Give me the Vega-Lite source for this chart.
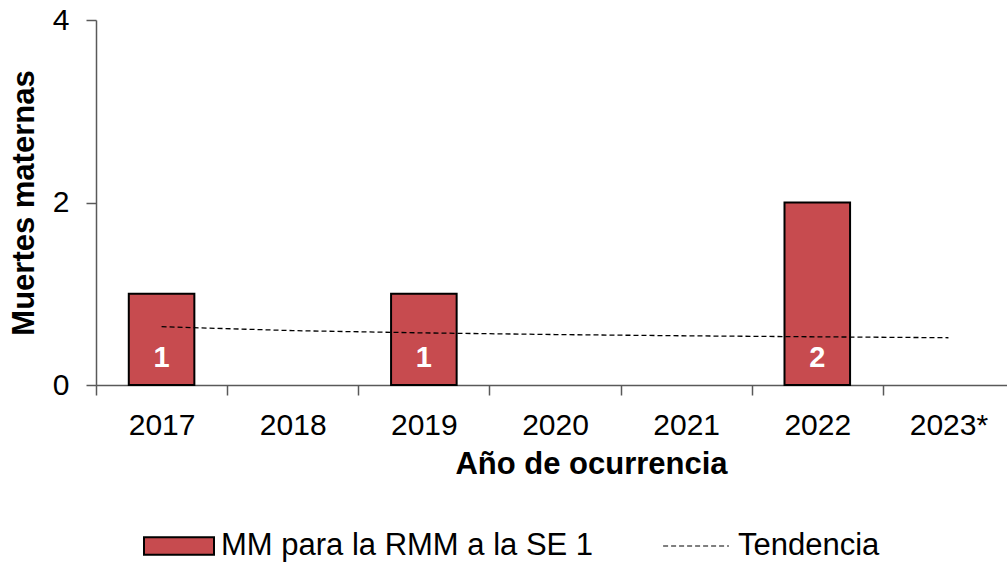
{
  "$schema": "https://vega.github.io/schema/vega-lite/v6.json",
  "width": 911,
  "height": 365,
  "autosize": {"type": "none"},
  "padding": {"left": 96, "top": 20, "right": 0, "bottom": 177},
  "background": "white",
  "config": {"view": {"stroke": null}, "font": "Liberation Sans"},
  "data": {"values": [
    {"anio": "2017", "mm": 1, "tend": 0.639},
    {"anio": "2018", "mm": 0, "tend": 0.596},
    {"anio": "2019", "mm": 1, "tend": 0.571},
    {"anio": "2020", "mm": 0, "tend": 0.553},
    {"anio": "2021", "mm": 0, "tend": 0.539},
    {"anio": "2022", "mm": 2, "tend": 0.528},
    {"anio": "2023*", "mm": 0, "tend": 0.518}
  ]},
  "encoding": {
    "x": {
      "field": "anio", "type": "nominal",
      "sort": ["2017", "2018", "2019", "2020", "2021", "2022", "2023*"],
      "scale": {"domain": ["2017", "2018", "2019", "2020", "2021", "2022", "2023*"], "paddingInner": 0, "paddingOuter": 0, "range": [0, 918]},
      "axis": {
        "title": "Año de ocurrencia", "labelAngle": 0, "tickBand": "extent",
        "tickSize": 10, "labelFontSize": 30, "labelPadding": 15, "labelColor": "black",
        "titleFontSize": 31, "titleFontWeight": "bold", "titlePadding": 9, "titleColor": "black",
        "titleX": 495,
        "domainColor": "#595959", "tickColor": "#595959", "domainWidth": 1.5, "tickWidth": 1.5
      }
    }
  },
  "layer": [
    {
      "transform": [{"filter": "datum.mm > 0"}],
      "mark": {"type": "bar", "stroke": "black", "strokeWidth": 2, "width": {"band": 0.5}},
      "encoding": {
        "y": {
          "field": "mm", "type": "quantitative",
          "scale": {"domain": [0, 4]},
          "axis": {
            "title": "Muertes maternas", "values": [0, 2, 4], "format": "d", "grid": false,
            "tickSize": 10, "labelFontSize": 30, "labelPadding": 17, "labelColor": "black",
            "titleFontSize": 31, "titleFontWeight": "bold", "titlePadding": 12, "titleColor": "black",
            "domainColor": "#595959", "tickColor": "#595959", "domainWidth": 1.5, "tickWidth": 1.5
          }
        },
        "fill": {
          "datum": "MM para la RMM a la SE 1", "type": "nominal",
          "scale": {"range": ["#C74B4F"]},
          "legend": {
            "orient": "none", "legendX": 47, "legendY": 490, "direction": "horizontal",
            "title": null, "labelFontSize": 31, "labelColor": "black", "labelLimit": 600,
            "symbolSize": 4900, "symbolType": "M-1,-0.25H1V0.25H-1Z",
            "symbolStrokeColor": "black", "symbolStrokeWidth": 2, "symbolOpacity": 1,
            "labelOffset": 6
          }
        }
      }
    },
    {
      "mark": {"type": "line", "strokeWidth": 1.3, "color": "black"},
      "encoding": {
        "y": {"field": "tend", "type": "quantitative"},
        "strokeDash": {
          "datum": "Tendencia", "type": "nominal",
          "scale": {"range": [[5, 3]]},
          "legend": {
            "orient": "none", "legendX": 564, "legendY": 490, "direction": "horizontal",
            "title": null, "labelFontSize": 31, "labelColor": "black", "labelLimit": 600,
            "symbolSize": 4900, "symbolType": "M-0.94,0H0.94",
            "symbolStrokeColor": "black", "symbolStrokeWidth": 1.2,
            "labelOffset": 6
          }
        }
      }
    },
    {
      "transform": [{"filter": "datum.mm > 0"}],
      "mark": {"type": "text", "color": "white", "fontWeight": "bold", "fontSize": 29, "baseline": "alphabetic", "dy": -18},
      "encoding": {
        "y": {"datum": 0, "type": "quantitative"},
        "text": {"field": "mm", "type": "quantitative"}
      }
    }
  ]
}
